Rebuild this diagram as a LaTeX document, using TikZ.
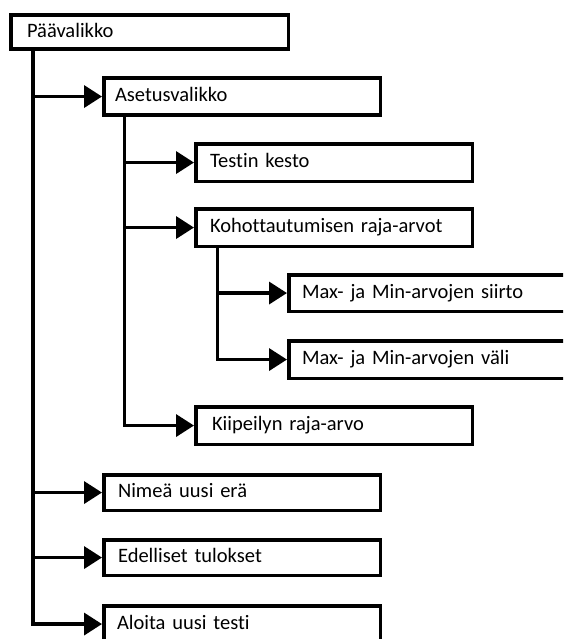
\documentclass[tikz,border=0pt]{standalone}
\usepackage{fontspec}
\setmainfont{Carlito}[Ligatures=NoCommon]
\usetikzlibrary{arrows.meta}

\tikzset{
  menubox/.style={draw=black, line width=3.6pt, rectangle, anchor=north west,
    align=left, text height=14pt, text depth=4pt,
    font=\fontsize{20.5}{24}\selectfont},
  conn/.style={draw=black, line width=3.6pt,
    -{Triangle[length=18pt,width=22pt]}},
}

\begin{document}
\begin{tikzpicture}[x=1pt, y=-1pt]
  \useasboundingbox (0,0) rectangle (563,639);
  \clip (0,0) rectangle (563,639);

  % menu entries
  \node[menubox, minimum height=34.5pt, inner xsep=16.25pt, text width=245pt] (main)   at (9,13)   {Päävalikko};
  \node[menubox, minimum height=37.5pt, inner xsep=11.25pt, text width=254pt] (aset)   at (102,76) {Asetusvalikko};
  \node[menubox, minimum height=37.5pt, inner xsep=14.25pt, text width=248pt] (testin) at (194,142) {Testin kesto};
  \node[menubox, minimum height=37.5pt, inner xsep=14.25pt, text width=248pt] (kohot)  at (194,207) {Kohottautumisen raja-arvot};
  \node[menubox, minimum height=36.5pt, inner xsep=13.25pt, text width=283pt] (maxs)   at (287,273) {Max- ja Min-arvojen siirto};
  \node[menubox, minimum height=37.5pt, inner xsep=13.25pt, text width=283pt] (maxv)   at (287,339) {Max- ja Min-arvojen väli};
  \node[menubox, minimum height=37.5pt, inner xsep=16.25pt, text width=244pt] (kiip)   at (194,405) {Kiipeilyn raja-arvo};
  \node[menubox, minimum height=35.5pt, inner xsep=14.25pt, text width=248pt] (nimea)  at (102,473) {Nimeä uusi erä};
  \node[menubox, minimum height=35.5pt, inner xsep=14.25pt, text width=248pt] (edell)  at (102,538) {Edelliset tulokset};
  \node[menubox, minimum height=36.5pt, inner xsep=13.25pt, text width=250pt] (aloita) at (102,604) {Aloita uusi testi};

  % vertical trunk lines
  \coordinate (t0) at (33,0);
  \coordinate (t1) at (124.5,0);
  \coordinate (t2) at (217.5,0);

  % main menu branches
  \draw[conn] (main.south -| t0) |- (aset.west);
  \draw[conn] (main.south -| t0) |- (nimea.west);
  \draw[conn] (main.south -| t0) |- (edell.west);
  \draw[conn] (main.south -| t0) |- (aloita.west);

  % settings menu branches
  \draw[conn] (aset.south -| t1) |- (testin.west);
  \draw[conn] (aset.south -| t1) |- (kohot.west);
  \draw[conn] (aset.south -| t1) |- (kiip.west);

  % threshold sub-branches
  \draw[conn] (kohot.south -| t2) |- (maxs.west);
  \draw[conn] (kohot.south -| t2) |- (maxv.west);
\end{tikzpicture}
\end{document}
